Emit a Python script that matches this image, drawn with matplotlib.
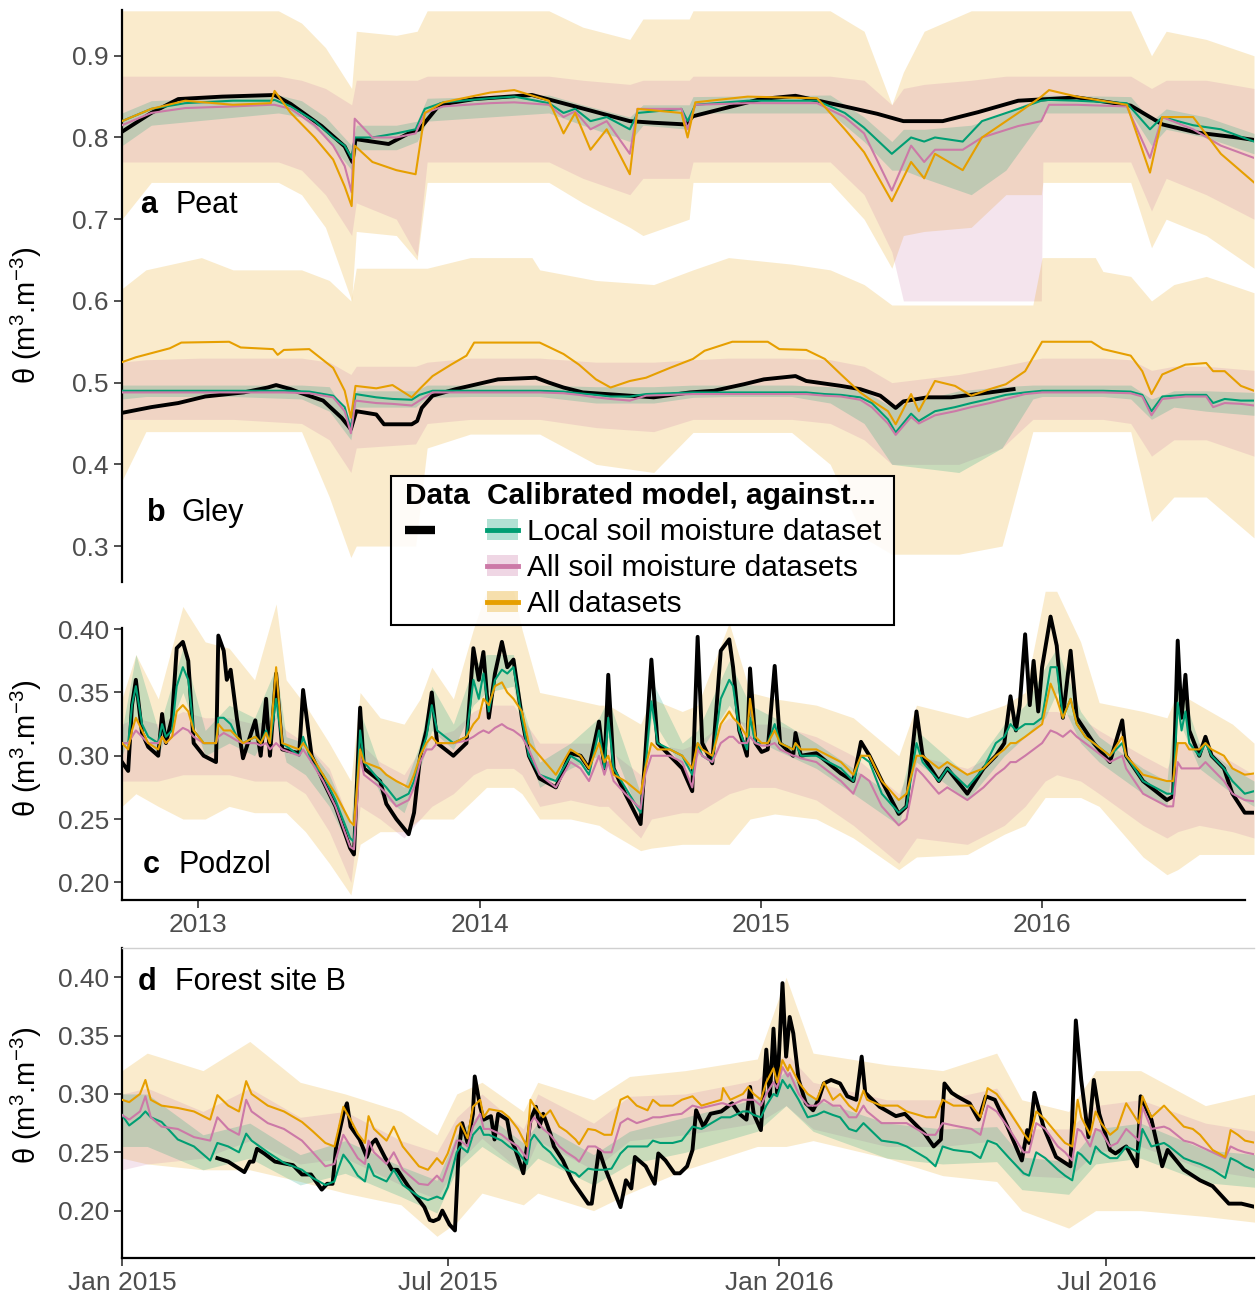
import matplotlib
matplotlib.use("Agg")
import matplotlib.pyplot as plt
import matplotlib.dates as mdates
from matplotlib.ticker import FormatStrFormatter
from matplotlib.lines import Line2D
from matplotlib.patches import Patch, Rectangle
import pandas as pd

plt.rcParams['font.family'] = ['Liberation Sans', 'DejaVu Sans']
plt.rcParams['mathtext.fontset'] = 'custom'
plt.rcParams['mathtext.rm'] = 'Liberation Sans'
plt.rcParams['mathtext.it'] = 'Liberation Sans:italic'

C_LOCAL = '#009E73'
C_ALLSM = '#CC79A7'
C_ALL = '#E69F00'

# ---------------- a  Peat ----------------
peat_obs_dates = ['2012-09-24', '2012-11-01', '2012-12-06', '2013-02-01', '2013-04-10', '2013-05-01', '2013-06-10', '2013-07-10', '2013-07-20', '2013-07-24',
                  '2013-09-05', '2013-10-01', '2013-10-15', '2013-11-10', '2013-12-25', '2014-03-10', '2014-05-01', '2014-07-15', '2014-08-15', '2014-09-25',
                  '2014-10-05', '2015-01-01', '2015-02-15', '2015-04-15', '2015-06-01', '2015-07-05', '2015-08-25', '2015-10-10', '2015-12-01', '2016-02-15',
                  '2016-04-25', '2016-06-05', '2016-07-20', '2016-09-10', '2016-10-02']
peat_obs = [0.807, 0.83, 0.847, 0.850, 0.852, 0.841, 0.814, 0.789, 0.77, 0.798,
            0.792, 0.805, 0.81, 0.84, 0.847, 0.852, 0.839, 0.82, 0.818, 0.816,
            0.826, 0.847, 0.851, 0.839, 0.829, 0.820, 0.820, 0.831, 0.845, 0.849,
            0.839, 0.816, 0.806, 0.80, 0.797]

peat_mod_dates = ['2012-09-24', '2012-11-01', '2012-12-15', '2013-02-15', '2013-04-05', '2013-04-10', '2013-05-01', '2013-06-01', '2013-06-25', '2013-07-10',
                  '2013-07-19', '2013-07-23', '2013-08-15', '2013-09-15', '2013-10-10', '2013-10-22', '2013-11-15', '2014-01-15', '2014-02-15', '2014-04-01',
                  '2014-04-20', '2014-05-05', '2014-05-25', '2014-06-15', '2014-07-15', '2014-07-25', '2014-09-20', '2014-09-28', '2014-10-08', '2014-12-15',
                  '2015-03-15', '2015-04-20', '2015-05-15', '2015-06-20', '2015-07-15', '2015-08-01', '2015-08-15', '2015-09-20', '2015-10-15', '2015-12-01',
                  '2015-12-31', '2016-01-10', '2016-02-15', '2016-04-20', '2016-05-20', '2016-06-05', '2016-07-15', '2016-08-20', '2016-10-02']
peat_local = [0.82, 0.835, 0.842, 0.845, 0.845, 0.846, 0.838, 0.82, 0.80, 0.79,
              0.775, 0.80, 0.80, 0.805, 0.81, 0.835, 0.843, 0.848, 0.85, 0.842,
              0.83, 0.835, 0.82, 0.825, 0.81, 0.83, 0.835, 0.82, 0.84, 0.845,
              0.845, 0.83, 0.812, 0.78, 0.80, 0.795, 0.80, 0.795, 0.82, 0.835,
              0.845, 0.846, 0.845, 0.842, 0.81, 0.825, 0.815, 0.81, 0.795]
peat_allsm = [0.815, 0.83, 0.836, 0.838, 0.84, 0.84, 0.835, 0.815, 0.79, 0.765,
              0.733, 0.823, 0.80, 0.80, 0.805, 0.83, 0.838, 0.842, 0.843, 0.84,
              0.825, 0.832, 0.81, 0.82, 0.78, 0.835, 0.835, 0.81, 0.84, 0.842,
              0.842, 0.825, 0.805, 0.735, 0.79, 0.77, 0.785, 0.785, 0.80, 0.814,
              0.82, 0.84, 0.84, 0.838, 0.775, 0.825, 0.81, 0.79, 0.775]
peat_all = [0.82, 0.835, 0.845, 0.84, 0.842, 0.857, 0.83, 0.80, 0.773, 0.74,
            0.716, 0.79, 0.77, 0.76, 0.755, 0.83, 0.843, 0.855, 0.858, 0.845,
            0.805, 0.83, 0.785, 0.81, 0.755, 0.835, 0.83, 0.80, 0.843, 0.85,
            0.848, 0.81, 0.782, 0.722, 0.77, 0.75, 0.78, 0.76, 0.80, 0.83,
            0.85, 0.858, 0.85, 0.84, 0.757, 0.825, 0.825, 0.78, 0.745]

peat_band_dates = ['2012-09-24', '2012-11-01', '2013-04-15', '2013-05-15', '2013-06-15', '2013-07-19', '2013-07-25', '2013-09-15', '2013-10-12', '2013-10-25',
                   '2014-04-01', '2014-05-15', '2014-07-15', '2014-08-01', '2014-09-30', '2014-10-05', '2015-04-01', '2015-05-15', '2015-06-20', '2015-07-05',
                   '2015-08-01', '2015-10-01', '2015-11-15', '2015-12-31', '2016-01-02', '2016-04-25', '2016-05-22', '2016-06-10', '2016-08-01', '2016-10-02']
peat_all_lo = [0.70, 0.745, 0.745, 0.73, 0.69, 0.60, 0.685, 0.68, 0.65, 0.745,
               0.745, 0.72, 0.69, 0.68, 0.70, 0.745, 0.745, 0.70, 0.64, 0.68,
               0.685, 0.69, 0.73, 0.73, 0.745, 0.745, 0.665, 0.70, 0.68, 0.64]
peat_all_hi = [0.955, 0.955, 0.955, 0.94, 0.91, 0.86, 0.93, 0.925, 0.93, 0.955,
               0.955, 0.935, 0.92, 0.945, 0.945, 0.955, 0.955, 0.93, 0.84, 0.88,
               0.93, 0.955, 0.955, 0.955, 0.955, 0.955, 0.90, 0.93, 0.92, 0.90]
peat_allsm_lo = [0.77, 0.77, 0.77, 0.76, 0.73, 0.68, 0.72, 0.70, 0.655, 0.77,
                 0.77, 0.75, 0.73, 0.75, 0.75, 0.77, 0.77, 0.73, 0.66, 0.60,
                 0.60, 0.60, 0.60, 0.60, 0.77, 0.77, 0.71, 0.75, 0.73, 0.70]
peat_allsm_hi = [0.875, 0.875, 0.875, 0.87, 0.86, 0.84, 0.87, 0.87, 0.87, 0.875,
                 0.875, 0.87, 0.865, 0.87, 0.87, 0.875, 0.875, 0.87, 0.84, 0.86,
                 0.865, 0.87, 0.875, 0.875, 0.875, 0.875, 0.86, 0.87, 0.87, 0.86]
peat_local_lo = [0.79, 0.815, 0.83, 0.825, 0.80, 0.76, 0.785, 0.785, 0.795, 0.82,
                 0.83, 0.815, 0.795, 0.815, 0.81, 0.83, 0.83, 0.795, 0.76, 0.76,
                 0.75, 0.73, 0.76, 0.82, 0.83, 0.83, 0.79, 0.81, 0.80, 0.78]
peat_local_hi = [0.83, 0.845, 0.852, 0.845, 0.825, 0.79, 0.815, 0.815, 0.82, 0.848,
                 0.852, 0.84, 0.825, 0.84, 0.84, 0.85, 0.852, 0.825, 0.795, 0.81,
                 0.81, 0.815, 0.83, 0.85, 0.852, 0.85, 0.82, 0.835, 0.825, 0.805]

# ---------------- b  Gley ----------------
gley_obs_dates = ['2012-09-24', '2012-11-01', '2012-12-06', '2013-01-10', '2013-03-01', '2013-04-01', '2013-04-12', '2013-05-01', '2013-05-12', '2013-06-12',
                  '2013-07-06', '2013-07-18', '2013-07-25', '2013-08-20', '2013-08-30', '2013-10-05', '2013-10-12', '2013-10-18', '2013-11-01', '2013-12-01',
                  '2014-01-25', '2014-03-15', '2014-04-01', '2014-04-20', '2014-05-15', '2014-07-15', '2014-08-15', '2014-10-01', '2014-11-01', '2014-12-10',
                  '2015-01-05', '2015-02-15', '2015-03-01', '2015-04-15', '2015-05-10', '2015-06-05', '2015-06-25', '2015-07-05', '2015-08-05', '2015-09-05',
                  '2015-10-25', '2015-11-25']
gley_obs = [0.463, 0.47, 0.475, 0.483, 0.488, 0.494, 0.497, 0.492, 0.488, 0.478,
            0.457, 0.443, 0.465, 0.461, 0.449, 0.449, 0.453, 0.469, 0.484, 0.492,
            0.504, 0.506, 0.50, 0.494, 0.488, 0.484, 0.482, 0.488, 0.49, 0.498,
            0.504, 0.508, 0.502, 0.496, 0.492, 0.484, 0.469, 0.477, 0.482, 0.482,
            0.488, 0.492]

gley_mod_dates = ['2012-09-24', '2012-10-12', '2012-11-25', '2012-12-10', '2013-02-10', '2013-02-25', '2013-04-08', '2013-04-14', '2013-04-22', '2013-05-25',
                  '2013-06-25', '2013-07-10', '2013-07-18', '2013-07-24', '2013-08-20', '2013-09-10', '2013-10-05', '2013-10-15', '2013-11-01', '2013-11-25',
                  '2013-12-15', '2013-12-25', '2014-03-20', '2014-04-20', '2014-05-10', '2014-06-01', '2014-06-20', '2014-07-15', '2014-08-05', '2014-09-05',
                  '2014-10-05', '2014-10-20', '2014-11-25', '2015-01-10', '2015-01-25', '2015-03-01', '2015-03-25', '2015-04-15', '2015-05-10', '2015-05-25',
                  '2015-06-15', '2015-06-25', '2015-07-15', '2015-07-25', '2015-08-15', '2015-09-10', '2015-10-01', '2015-10-25', '2015-11-15', '2015-12-10',
                  '2016-01-01', '2016-03-05', '2016-03-20', '2016-04-25', '2016-05-10', '2016-05-22', '2016-06-05', '2016-07-05', '2016-08-01', '2016-08-10',
                  '2016-08-25', '2016-09-15', '2016-10-02']
gley_local = [0.49, 0.49, 0.49, 0.49, 0.49, 0.49, 0.49, 0.49, 0.49, 0.489,
              0.484, 0.47, 0.443, 0.486, 0.482, 0.48, 0.479, 0.485, 0.49, 0.49,
              0.49, 0.49, 0.49, 0.489, 0.487, 0.485, 0.483, 0.483, 0.486, 0.487,
              0.488, 0.488, 0.488, 0.488, 0.488, 0.488, 0.486, 0.485, 0.482, 0.475,
              0.455, 0.439, 0.462, 0.453, 0.465, 0.47, 0.475, 0.48, 0.485, 0.488,
              0.49, 0.49, 0.49, 0.489, 0.485, 0.465, 0.483, 0.485, 0.485, 0.475,
              0.48, 0.478, 0.478]
gley_allsm = [0.488, 0.488, 0.488, 0.488, 0.488, 0.488, 0.488, 0.488, 0.488, 0.487,
              0.482, 0.465, 0.438, 0.478, 0.475, 0.474, 0.472, 0.478, 0.488, 0.488,
              0.488, 0.488, 0.488, 0.487, 0.485, 0.482, 0.48, 0.478, 0.484, 0.485,
              0.486, 0.486, 0.486, 0.486, 0.486, 0.486, 0.484, 0.483, 0.479, 0.47,
              0.45, 0.436, 0.458, 0.45, 0.46, 0.465, 0.47, 0.475, 0.48, 0.486,
              0.488, 0.488, 0.488, 0.487, 0.483, 0.46, 0.48, 0.483, 0.483, 0.47,
              0.475, 0.474, 0.472]
gley_all = [0.525, 0.531, 0.542, 0.549, 0.55, 0.543, 0.541, 0.534, 0.54, 0.541,
            0.518, 0.49, 0.457, 0.496, 0.493, 0.497, 0.482, 0.492, 0.508, 0.522,
            0.533, 0.549, 0.549, 0.535, 0.522, 0.504, 0.494, 0.502, 0.506, 0.518,
            0.529, 0.539, 0.55, 0.55, 0.541, 0.54, 0.529, 0.51, 0.488, 0.478,
            0.465, 0.449, 0.486, 0.465, 0.502, 0.496, 0.484, 0.492, 0.498, 0.514,
            0.55, 0.55, 0.541, 0.533, 0.514, 0.486, 0.51, 0.522, 0.524, 0.514,
            0.514, 0.496, 0.49]

gley_band_dates = ['2012-09-24', '2012-10-25', '2013-01-05', '2013-02-15', '2013-05-15', '2013-06-20', '2013-07-18', '2013-07-25', '2013-10-10', '2013-10-25',
                   '2013-12-20', '2014-03-10', '2014-03-20', '2014-06-01', '2014-08-15', '2014-10-05', '2014-11-20', '2015-02-10', '2015-04-01', '2015-05-15',
                   '2015-06-20', '2015-09-15', '2015-11-10', '2015-12-20', '2016-01-01', '2016-03-10', '2016-03-20', '2016-04-25', '2016-05-22', '2016-06-20',
                   '2016-08-01', '2016-10-02']
gley_all_lo = [0.38, 0.44, 0.44, 0.44, 0.44, 0.36, 0.286, 0.30, 0.30, 0.42,
               0.437, 0.437, 0.437, 0.40, 0.39, 0.439, 0.439, 0.439, 0.40, 0.31,
               0.29, 0.29, 0.30, 0.44, 0.44, 0.44, 0.44, 0.44, 0.33, 0.36,
               0.36, 0.31]
gley_all_hi = [0.615, 0.638, 0.653, 0.638, 0.638, 0.625, 0.60, 0.64, 0.64, 0.64,
               0.653, 0.653, 0.638, 0.625, 0.62, 0.638, 0.653, 0.645, 0.638, 0.62,
               0.595, 0.595, 0.595, 0.595, 0.653, 0.653, 0.636, 0.63, 0.60, 0.62,
               0.63, 0.61]
gley_allsm_lo = [0.455, 0.455, 0.455, 0.455, 0.45, 0.43, 0.39, 0.42, 0.425, 0.45,
                 0.455, 0.455, 0.455, 0.445, 0.44, 0.455, 0.455, 0.455, 0.45, 0.43,
                 0.40, 0.40, 0.42, 0.455, 0.455, 0.455, 0.455, 0.45, 0.41, 0.43,
                 0.43, 0.41]
gley_allsm_hi = [0.525, 0.528, 0.53, 0.53, 0.53, 0.525, 0.51, 0.52, 0.52, 0.525,
                 0.53, 0.53, 0.53, 0.525, 0.525, 0.528, 0.53, 0.53, 0.528, 0.52,
                 0.50, 0.51, 0.52, 0.528, 0.53, 0.53, 0.53, 0.528, 0.515, 0.52,
                 0.52, 0.515]
gley_local_lo = [0.48, 0.483, 0.483, 0.483, 0.48, 0.465, 0.43, 0.47, 0.47, 0.482,
                 0.483, 0.483, 0.483, 0.475, 0.475, 0.482, 0.483, 0.483, 0.475, 0.45,
                 0.40, 0.39, 0.42, 0.48, 0.483, 0.483, 0.483, 0.48, 0.455, 0.47,
                 0.465, 0.46]
gley_local_hi = [0.497, 0.497, 0.497, 0.497, 0.497, 0.495, 0.455, 0.49, 0.49, 0.497,
                 0.497, 0.497, 0.497, 0.495, 0.495, 0.497, 0.497, 0.497, 0.495, 0.49,
                 0.47, 0.49, 0.495, 0.497, 0.497, 0.497, 0.497, 0.497, 0.48, 0.49,
                 0.49, 0.488]

# ---------------- c  Podzol ----------------
podzol_obs_dates = ['2012-09-24', '2012-10-02', '2012-10-07', '2012-10-12', '2012-10-20', '2012-10-28', '2012-11-10', '2012-11-15', '2012-11-20', '2012-11-28',
                    '2012-12-04', '2012-12-12', '2012-12-19', '2012-12-26', '2013-01-08', '2013-01-24', '2013-01-27', '2013-02-03', '2013-02-07', '2013-02-12',
                    '2013-02-20', '2013-02-28', '2013-03-16', '2013-03-23', '2013-03-30', '2013-04-04', '2013-04-12', '2013-04-20', '2013-05-12', '2013-05-17',
                    '2013-05-28', '2013-06-12', '2013-06-28', '2013-07-17', '2013-07-22', '2013-07-30', '2013-08-04', '2013-08-25', '2013-09-02', '2013-09-15',
                    '2013-10-01', '2013-10-08', '2013-10-16', '2013-10-24', '2013-10-31', '2013-11-07', '2013-11-28', '2013-12-15', '2013-12-24', '2013-12-31',
                    '2014-01-06', '2014-01-13', '2014-01-21', '2014-01-30', '2014-02-06', '2014-02-14', '2014-02-25', '2014-03-06', '2014-03-20', '2014-04-10',
                    '2014-04-29', '2014-05-12', '2014-05-23', '2014-06-05', '2014-06-12', '2014-06-17', '2014-06-24', '2014-07-09', '2014-07-29', '2014-08-04',
                    '2014-08-12', '2014-08-20', '2014-09-05', '2014-09-21', '2014-10-04', '2014-10-11', '2014-10-17', '2014-10-30', '2014-11-10', '2014-11-21',
                    '2014-11-26', '2014-12-04', '2014-12-14', '2014-12-18', '2014-12-25', '2015-01-02', '2015-01-10', '2015-01-19', '2015-01-26', '2015-02-12',
                    '2015-02-15', '2015-02-22', '2015-03-14', '2015-04-15', '2015-05-01', '2015-05-11', '2015-05-22', '2015-06-07', '2015-06-29', '2015-07-09',
                    '2015-07-22', '2015-07-30', '2015-08-20', '2015-08-31', '2015-09-26', '2015-10-17', '2015-11-02', '2015-11-13', '2015-11-21', '2015-11-28',
                    '2015-12-03', '2015-12-10', '2015-12-16', '2015-12-21', '2015-12-27', '2016-01-01', '2016-01-12', '2016-01-20', '2016-01-28', '2016-02-07',
                    '2016-02-15', '2016-02-26', '2016-03-08', '2016-03-29', '2016-04-14', '2016-04-19', '2016-05-11', '2016-06-11', '2016-06-19', '2016-06-25',
                    '2016-06-30', '2016-07-05', '2016-07-10', '2016-07-23', '2016-07-31', '2016-08-08', '2016-08-24', '2016-09-04', '2016-09-20', '2016-10-02']
podzol_obs = [0.295, 0.288, 0.34, 0.36, 0.318, 0.307, 0.30, 0.333, 0.31, 0.33,
              0.385, 0.39, 0.375, 0.31, 0.30, 0.295, 0.395, 0.383, 0.36, 0.368,
              0.33, 0.298, 0.328, 0.30, 0.345, 0.30, 0.365, 0.305, 0.302, 0.352,
              0.30, 0.28, 0.26, 0.227, 0.222, 0.338, 0.29, 0.28, 0.262, 0.25,
              0.238, 0.255, 0.30, 0.32, 0.35, 0.31, 0.30, 0.31, 0.385, 0.36,
              0.382, 0.33, 0.365, 0.39, 0.37, 0.376, 0.33, 0.30, 0.282, 0.275,
              0.302, 0.30, 0.29, 0.327, 0.29, 0.364, 0.29, 0.27, 0.246, 0.30,
              0.376, 0.31, 0.30, 0.29, 0.272, 0.394, 0.31, 0.294, 0.383, 0.392,
              0.37, 0.32, 0.30, 0.369, 0.31, 0.303, 0.305, 0.371, 0.31, 0.30,
              0.318, 0.30, 0.302, 0.286, 0.28, 0.311, 0.30, 0.28, 0.254, 0.26,
              0.335, 0.30, 0.28, 0.29, 0.27, 0.29, 0.30, 0.31, 0.347, 0.32,
              0.34, 0.396, 0.34, 0.375, 0.335, 0.37, 0.41, 0.387, 0.33, 0.383,
              0.33, 0.32, 0.31, 0.295, 0.328, 0.30, 0.28, 0.265, 0.268, 0.391,
              0.33, 0.364, 0.32, 0.30, 0.315, 0.30, 0.29, 0.27, 0.255, 0.255]

podzol_mod_dates = ['2012-09-24', '2012-10-02', '2012-10-07', '2012-10-12', '2012-10-20', '2012-10-28', '2012-11-10', '2012-11-15', '2012-11-20', '2012-11-28',
                    '2012-12-04', '2012-12-12', '2012-12-19', '2012-12-26', '2013-01-08', '2013-01-24', '2013-01-27', '2013-02-03', '2013-02-12', '2013-02-20',
                    '2013-02-28', '2013-03-16', '2013-03-23', '2013-03-30', '2013-04-04', '2013-04-12', '2013-04-20', '2013-05-12', '2013-05-17', '2013-05-28',
                    '2013-06-12', '2013-06-28', '2013-07-17', '2013-07-22', '2013-07-30', '2013-08-04', '2013-08-25', '2013-09-02', '2013-09-15', '2013-10-01',
                    '2013-10-08', '2013-10-16', '2013-10-24', '2013-10-31', '2013-11-07', '2013-11-28', '2013-12-15', '2013-12-24', '2013-12-31', '2014-01-06',
                    '2014-01-13', '2014-01-21', '2014-01-30', '2014-02-06', '2014-02-14', '2014-02-25', '2014-03-06', '2014-03-20', '2014-04-10', '2014-04-29',
                    '2014-05-12', '2014-05-23', '2014-06-05', '2014-06-12', '2014-06-17', '2014-06-24', '2014-07-09', '2014-07-29', '2014-08-04', '2014-08-12',
                    '2014-08-20', '2014-09-05', '2014-09-21', '2014-10-04', '2014-10-11', '2014-10-17', '2014-10-30', '2014-11-10', '2014-11-21', '2014-11-26',
                    '2014-12-04', '2014-12-14', '2014-12-18', '2014-12-25', '2015-01-02', '2015-01-10', '2015-01-19', '2015-01-26', '2015-02-12', '2015-02-15',
                    '2015-02-22', '2015-03-14', '2015-04-15', '2015-05-01', '2015-05-11', '2015-05-22', '2015-06-07', '2015-06-29', '2015-07-09', '2015-07-22',
                    '2015-07-30', '2015-08-20', '2015-08-31', '2015-09-26', '2015-10-17', '2015-11-02', '2015-11-13', '2015-11-21', '2015-11-28', '2015-12-10',
                    '2015-12-21', '2016-01-01', '2016-01-12', '2016-01-20', '2016-01-28', '2016-02-07', '2016-02-15', '2016-02-26', '2016-03-08', '2016-03-29',
                    '2016-04-14', '2016-04-19', '2016-05-11', '2016-06-11', '2016-06-19', '2016-06-25', '2016-06-30', '2016-07-05', '2016-07-10', '2016-07-23',
                    '2016-07-31', '2016-08-08', '2016-08-24', '2016-09-04', '2016-09-20', '2016-10-02']
podzol_local = [0.31, 0.31, 0.34, 0.355, 0.325, 0.315, 0.31, 0.325, 0.315, 0.32,
                0.355, 0.37, 0.36, 0.32, 0.31, 0.31, 0.33, 0.33, 0.325, 0.315,
                0.31, 0.315, 0.31, 0.32, 0.31, 0.345, 0.31, 0.30, 0.315, 0.295,
                0.285, 0.265, 0.235, 0.232, 0.32, 0.295, 0.28, 0.275, 0.265, 0.27,
                0.28, 0.30, 0.315, 0.34, 0.32, 0.31, 0.315, 0.36, 0.345, 0.365,
                0.335, 0.36, 0.368, 0.365, 0.37, 0.33, 0.30, 0.285, 0.28, 0.30,
                0.295, 0.285, 0.32, 0.29, 0.33, 0.29, 0.275, 0.255, 0.29, 0.343,
                0.31, 0.305, 0.30, 0.285, 0.31, 0.30, 0.295, 0.345, 0.36, 0.355,
                0.32, 0.305, 0.33, 0.31, 0.31, 0.31, 0.325, 0.31, 0.305, 0.31,
                0.30, 0.30, 0.29, 0.28, 0.30, 0.295, 0.27, 0.255, 0.26, 0.31,
                0.295, 0.28, 0.29, 0.275, 0.29, 0.31, 0.315, 0.325, 0.32, 0.325,
                0.325, 0.33, 0.37, 0.37, 0.33, 0.345, 0.325, 0.315, 0.31, 0.30,
                0.31, 0.30, 0.28, 0.27, 0.27, 0.342, 0.32, 0.335, 0.31, 0.30,
                0.31, 0.30, 0.29, 0.28, 0.27, 0.272]
podzol_allsm = [0.31, 0.31, 0.315, 0.32, 0.315, 0.31, 0.31, 0.315, 0.31, 0.315,
                0.318, 0.322, 0.32, 0.315, 0.31, 0.31, 0.315, 0.318, 0.315, 0.312,
                0.31, 0.31, 0.308, 0.31, 0.305, 0.31, 0.305, 0.30, 0.305, 0.295,
                0.28, 0.26, 0.228, 0.226, 0.30, 0.285, 0.275, 0.27, 0.26, 0.265,
                0.275, 0.295, 0.305, 0.305, 0.31, 0.31, 0.312, 0.315, 0.318, 0.32,
                0.318, 0.322, 0.325, 0.322, 0.32, 0.315, 0.305, 0.285, 0.275, 0.295,
                0.29, 0.28, 0.30, 0.285, 0.295, 0.28, 0.27, 0.258, 0.285, 0.30,
                0.30, 0.30, 0.295, 0.275, 0.305, 0.30, 0.295, 0.31, 0.315, 0.315,
                0.31, 0.31, 0.315, 0.31, 0.308, 0.308, 0.31, 0.305, 0.30, 0.30,
                0.298, 0.295, 0.28, 0.27, 0.285, 0.28, 0.26, 0.245, 0.25, 0.29,
                0.285, 0.27, 0.275, 0.265, 0.275, 0.285, 0.29, 0.295, 0.295, 0.30,
                0.305, 0.31, 0.32, 0.318, 0.315, 0.32, 0.315, 0.31, 0.305, 0.295,
                0.30, 0.29, 0.27, 0.26, 0.26, 0.295, 0.29, 0.29, 0.29, 0.29,
                0.295, 0.29, 0.28, 0.27, 0.265, 0.264]
podzol_all = [0.31, 0.305, 0.32, 0.33, 0.32, 0.31, 0.305, 0.315, 0.31, 0.315,
              0.335, 0.34, 0.335, 0.32, 0.31, 0.31, 0.325, 0.32, 0.32, 0.315,
              0.31, 0.315, 0.31, 0.318, 0.31, 0.37, 0.31, 0.305, 0.31, 0.30,
              0.285, 0.27, 0.248, 0.245, 0.305, 0.295, 0.29, 0.285, 0.28, 0.275,
              0.285, 0.30, 0.31, 0.315, 0.31, 0.31, 0.315, 0.325, 0.33, 0.345,
              0.34, 0.355, 0.358, 0.35, 0.345, 0.335, 0.31, 0.30, 0.285, 0.305,
              0.30, 0.29, 0.31, 0.295, 0.30, 0.285, 0.28, 0.27, 0.29, 0.31,
              0.305, 0.305, 0.30, 0.29, 0.31, 0.305, 0.30, 0.325, 0.335, 0.33,
              0.325, 0.315, 0.345, 0.315, 0.31, 0.31, 0.32, 0.31, 0.305, 0.31,
              0.305, 0.305, 0.295, 0.285, 0.30, 0.30, 0.28, 0.265, 0.27, 0.30,
              0.30, 0.29, 0.295, 0.285, 0.29, 0.30, 0.305, 0.31, 0.31, 0.315,
              0.32, 0.325, 0.357, 0.345, 0.33, 0.345, 0.325, 0.315, 0.31, 0.30,
              0.315, 0.30, 0.285, 0.28, 0.28, 0.31, 0.31, 0.31, 0.305, 0.305,
              0.31, 0.305, 0.30, 0.29, 0.285, 0.286]

podzol_band_dates = ['2012-09-24', '2012-10-12', '2012-11-10', '2012-12-12', '2013-01-10', '2013-02-10', '2013-03-15', '2013-04-12', '2013-04-25', '2013-05-20',
                     '2013-06-20', '2013-07-18', '2013-07-30', '2013-08-25', '2013-09-25', '2013-10-16', '2013-10-31', '2013-11-28', '2013-12-24', '2014-01-10',
                     '2014-02-14', '2014-02-25', '2014-03-20', '2014-04-29', '2014-06-05', '2014-06-17', '2014-07-29', '2014-08-12', '2014-09-21', '2014-10-11',
                     '2014-11-21', '2014-12-18', '2015-01-19', '2015-03-14', '2015-05-01', '2015-06-29', '2015-07-22', '2015-09-26', '2015-11-13', '2015-12-10',
                     '2016-01-05', '2016-01-20', '2016-02-20', '2016-03-15', '2016-05-11', '2016-06-11', '2016-06-25', '2016-07-23', '2016-09-04', '2016-10-02']
podzol_all_lo = [0.26, 0.27, 0.26, 0.25, 0.25, 0.26, 0.255, 0.255, 0.255, 0.24,
                 0.215, 0.19, 0.23, 0.24, 0.24, 0.25, 0.25, 0.25, 0.265, 0.275,
                 0.275, 0.27, 0.25, 0.25, 0.245, 0.24, 0.225, 0.227, 0.23, 0.23,
                 0.23, 0.25, 0.254, 0.25, 0.235, 0.21, 0.22, 0.222, 0.238, 0.245,
                 0.267, 0.267, 0.267, 0.26, 0.22, 0.206, 0.21, 0.222, 0.222, 0.222]
podzol_all_hi = [0.345, 0.38, 0.345, 0.418, 0.39, 0.385, 0.36, 0.42, 0.36, 0.34,
                 0.31, 0.28, 0.35, 0.33, 0.325, 0.345, 0.37, 0.345, 0.40, 0.43,
                 0.43, 0.40, 0.35, 0.345, 0.34, 0.34, 0.325, 0.345, 0.335, 0.34,
                 0.405, 0.35, 0.345, 0.34, 0.33, 0.30, 0.34, 0.33, 0.34, 0.35,
                 0.43, 0.43, 0.39, 0.342, 0.335, 0.33, 0.35, 0.34, 0.325, 0.31]
podzol_allsm_lo = [0.28, 0.28, 0.28, 0.285, 0.285, 0.285, 0.28, 0.28, 0.28, 0.27,
                   0.24, 0.20, 0.26, 0.25, 0.235, 0.25, 0.26, 0.27, 0.285, 0.29,
                   0.29, 0.285, 0.26, 0.265, 0.26, 0.26, 0.235, 0.25, 0.255, 0.255,
                   0.27, 0.275, 0.275, 0.265, 0.245, 0.215, 0.235, 0.23, 0.245, 0.26,
                   0.28, 0.285, 0.28, 0.27, 0.245, 0.235, 0.24, 0.245, 0.24, 0.235]
podzol_allsm_hi = [0.325, 0.33, 0.325, 0.335, 0.33, 0.33, 0.325, 0.33, 0.32, 0.31,
                   0.29, 0.245, 0.31, 0.295, 0.285, 0.305, 0.315, 0.32, 0.335, 0.34,
                   0.34, 0.33, 0.31, 0.31, 0.31, 0.305, 0.285, 0.31, 0.305, 0.31,
                   0.33, 0.325, 0.325, 0.315, 0.30, 0.27, 0.30, 0.29, 0.305, 0.315,
                   0.335, 0.335, 0.33, 0.32, 0.30, 0.29, 0.31, 0.31, 0.295, 0.285]
podzol_local_lo = [0.30, 0.33, 0.30, 0.35, 0.30, 0.31, 0.30, 0.33, 0.295, 0.285,
                   0.26, 0.225, 0.305, 0.27, 0.255, 0.29, 0.32, 0.305, 0.34, 0.35,
                   0.355, 0.32, 0.275, 0.29, 0.30, 0.315, 0.25, 0.33, 0.29, 0.30,
                   0.34, 0.315, 0.305, 0.29, 0.27, 0.245, 0.295, 0.265, 0.30, 0.315,
                   0.33, 0.35, 0.31, 0.295, 0.27, 0.26, 0.33, 0.29, 0.27, 0.26]
podzol_local_hi = [0.32, 0.38, 0.32, 0.385, 0.32, 0.34, 0.33, 0.37, 0.315, 0.31,
                   0.285, 0.245, 0.335, 0.29, 0.275, 0.31, 0.355, 0.325, 0.37, 0.38,
                   0.38, 0.34, 0.295, 0.31, 0.33, 0.345, 0.27, 0.36, 0.31, 0.32,
                   0.375, 0.34, 0.33, 0.31, 0.29, 0.265, 0.32, 0.285, 0.325, 0.34,
                   0.37, 0.385, 0.335, 0.315, 0.29, 0.28, 0.36, 0.31, 0.29, 0.28]

# ---------------- d  Forest site B ----------------
forest_obs_dates = ['2015-02-23', '2015-03-01', '2015-03-10', '2015-03-13', '2015-03-15', '2015-03-17', '2015-03-21', '2015-03-27', '2015-04-06', '2015-04-11',
                    '2015-04-16', '2015-04-22', '2015-04-25', '2015-04-28', '2015-04-30', '2015-05-04', '2015-05-06', '2015-05-08', '2015-05-13', '2015-05-17',
                    '2015-05-20', '2015-05-22', '2015-05-27', '2015-05-31', '2015-06-03', '2015-06-09', '2015-06-18', '2015-06-21', '2015-06-23', '2015-06-26',
                    '2015-06-28', '2015-07-02', '2015-07-05', '2015-07-07', '2015-07-09', '2015-07-12', '2015-07-15', '2015-07-16', '2015-07-19', '2015-07-21',
                    '2015-07-25', '2015-07-27', '2015-07-29', '2015-08-03', '2015-08-05', '2015-08-07', '2015-08-12', '2015-08-16', '2015-08-19', '2015-08-21',
                    '2015-08-23', '2015-08-27', '2015-08-29', '2015-09-03', '2015-09-08', '2015-09-17', '2015-09-19', '2015-09-23', '2015-09-26', '2015-10-05',
                    '2015-10-08', '2015-10-11', '2015-10-13', '2015-10-19', '2015-10-24', '2015-10-26', '2015-10-30', '2015-11-04', '2015-11-07', '2015-11-11',
                    '2015-11-14', '2015-11-16', '2015-11-20', '2015-11-24', '2015-11-30', '2015-12-06', '2015-12-10', '2015-12-14', '2015-12-16', '2015-12-18',
                    '2015-12-22', '2015-12-25', '2015-12-27', '2015-12-29', '2015-12-31', '2016-01-03', '2016-01-05', '2016-01-07', '2016-01-09', '2016-01-12',
                    '2016-01-16', '2016-01-20', '2016-01-23', '2016-01-26', '2016-01-30', '2016-02-04', '2016-02-08', '2016-02-13', '2016-02-16', '2016-02-18',
                    '2016-02-26', '2016-03-06', '2016-03-11', '2016-03-22', '2016-03-27', '2016-03-31', '2016-04-02', '2016-04-06', '2016-04-09', '2016-04-16',
                    '2016-04-21', '2016-04-25', '2016-04-30', '2016-05-07', '2016-05-15', '2016-05-18', '2016-05-19', '2016-05-22', '2016-05-27', '2016-06-03',
                    '2016-06-08', '2016-06-11', '2016-06-14', '2016-06-17', '2016-06-21', '2016-06-24', '2016-06-27', '2016-07-03', '2016-07-06', '2016-07-12',
                    '2016-07-18', '2016-07-20', '2016-07-26', '2016-08-01', '2016-08-04', '2016-08-13', '2016-08-22', '2016-08-29', '2016-09-07', '2016-09-14',
                    '2016-09-22']
forest_obs = [0.245, 0.242, 0.233, 0.242, 0.242, 0.253, 0.249, 0.242, 0.239, 0.231,
              0.231, 0.218, 0.223, 0.223, 0.255, 0.283, 0.292, 0.272, 0.261, 0.246,
              0.258, 0.261, 0.246, 0.235, 0.235, 0.221, 0.203, 0.192, 0.191, 0.193,
              0.20, 0.188, 0.183, 0.249, 0.275, 0.258, 0.283, 0.315, 0.289, 0.278,
              0.281, 0.261, 0.283, 0.278, 0.261, 0.255, 0.232, 0.278, 0.289, 0.272,
              0.283, 0.266, 0.255, 0.243, 0.226, 0.206, 0.206, 0.252, 0.238, 0.203,
              0.226, 0.219, 0.246, 0.238, 0.223, 0.249, 0.243, 0.232, 0.232, 0.238,
              0.252, 0.286, 0.272, 0.283, 0.285, 0.292, 0.283, 0.278, 0.306, 0.283,
              0.269, 0.338, 0.298, 0.356, 0.301, 0.395, 0.332, 0.366, 0.352, 0.312,
              0.292, 0.286, 0.295, 0.309, 0.312, 0.309, 0.298, 0.295, 0.332, 0.301,
              0.289, 0.281, 0.283, 0.266, 0.255, 0.261, 0.309, 0.301, 0.298, 0.292,
              0.278, 0.298, 0.295, 0.272, 0.243, 0.269, 0.258, 0.301, 0.272, 0.246,
              0.241, 0.238, 0.363, 0.312, 0.263, 0.312, 0.283, 0.252, 0.249, 0.255,
              0.238, 0.298, 0.278, 0.238, 0.252, 0.235, 0.226, 0.221, 0.206, 0.206,
              0.203]

forest_mod_dates = ['2015-01-01', '2015-01-05', '2015-01-11', '2015-01-14', '2015-01-17', '2015-01-23', '2015-02-01', '2015-02-10', '2015-02-19', '2015-02-23',
                    '2015-03-01', '2015-03-07', '2015-03-11', '2015-03-14', '2015-03-23', '2015-04-01', '2015-04-11', '2015-04-17', '2015-04-24', '2015-04-29',
                    '2015-05-01', '2015-05-04', '2015-05-08', '2015-05-12', '2015-05-16', '2015-05-18', '2015-05-21', '2015-05-28', '2015-06-01', '2015-06-06',
                    '2015-06-15', '2015-06-20', '2015-06-25', '2015-06-28', '2015-07-01', '2015-07-06', '2015-07-08', '2015-07-12', '2015-07-15', '2015-07-19',
                    '2015-07-21', '2015-07-24', '2015-07-31', '2015-08-04', '2015-08-09', '2015-08-14', '2015-08-16', '2015-08-18', '2015-08-23', '2015-08-27',
                    '2015-09-01', '2015-09-05', '2015-09-10', '2015-09-12', '2015-09-17', '2015-09-21', '2015-09-26', '2015-09-30', '2015-10-05', '2015-10-09',
                    '2015-10-14', '2015-10-20', '2015-10-23', '2015-10-27', '2015-11-03', '2015-11-08', '2015-11-14', '2015-11-19', '2015-11-30', '2015-12-01',
                    '2015-12-05', '2015-12-12', '2015-12-15', '2015-12-18', '2015-12-22', '2015-12-25', '2015-12-29', '2015-12-31', '2016-01-03', '2016-01-06',
                    '2016-01-07', '2016-01-12', '2016-01-17', '2016-01-22', '2016-01-26', '2016-01-31', '2016-02-04', '2016-02-09', '2016-02-13', '2016-02-17',
                    '2016-02-19', '2016-02-27', '2016-03-07', '2016-03-12', '2016-03-23', '2016-03-28', '2016-04-01', '2016-04-07', '2016-04-17', '2016-04-22',
                    '2016-04-26', '2016-05-01', '2016-05-08', '2016-05-16', '2016-05-19', '2016-05-23', '2016-05-28', '2016-06-04', '2016-06-08', '2016-06-12',
                    '2016-06-15', '2016-06-17', '2016-06-22', '2016-06-25', '2016-06-28', '2016-07-03', '2016-07-07', '2016-07-12', '2016-07-19', '2016-07-21',
                    '2016-07-26', '2016-08-02', '2016-08-05', '2016-08-13', '2016-08-18', '2016-08-22', '2016-08-29', '2016-09-05', '2016-09-08', '2016-09-12',
                    '2016-09-16', '2016-09-22']
forest_local = [0.282, 0.273, 0.28, 0.285, 0.28, 0.276, 0.261, 0.255, 0.243, 0.258,
                0.255, 0.25, 0.266, 0.26, 0.25, 0.241, 0.235, 0.228, 0.222, 0.225,
                0.235, 0.248, 0.24, 0.23, 0.225, 0.24, 0.23, 0.225, 0.235, 0.222,
                0.212, 0.209, 0.212, 0.21, 0.22, 0.25, 0.255, 0.25, 0.265, 0.272,
                0.265, 0.265, 0.26, 0.255, 0.25, 0.24, 0.26, 0.265, 0.255, 0.25,
                0.24, 0.235, 0.232, 0.229, 0.236, 0.235, 0.235, 0.236, 0.249, 0.255,
                0.255, 0.255, 0.26, 0.258, 0.258, 0.26, 0.272, 0.27, 0.28, 0.28,
                0.28, 0.285, 0.285, 0.282, 0.28, 0.29, 0.30, 0.298, 0.312, 0.305,
                0.308, 0.295, 0.28, 0.282, 0.285, 0.282, 0.28, 0.27, 0.268, 0.275,
                0.272, 0.26, 0.258, 0.255, 0.245, 0.238, 0.255, 0.252, 0.25, 0.245,
                0.26, 0.257, 0.245, 0.232, 0.23, 0.25, 0.245, 0.235, 0.23, 0.226,
                0.25, 0.248, 0.24, 0.255, 0.25, 0.245, 0.245, 0.255, 0.25, 0.27,
                0.255, 0.258, 0.255, 0.245, 0.242, 0.24, 0.235, 0.228, 0.245, 0.242,
                0.238, 0.234]
forest_allsm = [0.282, 0.278, 0.285, 0.298, 0.28, 0.272, 0.27, 0.263, 0.26, 0.28,
                0.27, 0.265, 0.295, 0.285, 0.275, 0.27, 0.26, 0.25, 0.238, 0.24,
                0.25, 0.265, 0.255, 0.245, 0.24, 0.26, 0.25, 0.24, 0.25, 0.235,
                0.223, 0.222, 0.23, 0.225, 0.238, 0.26, 0.26, 0.255, 0.272, 0.283,
                0.27, 0.27, 0.265, 0.26, 0.255, 0.245, 0.275, 0.28, 0.27, 0.265,
                0.255, 0.25, 0.245, 0.242, 0.255, 0.255, 0.25, 0.25, 0.275, 0.279,
                0.275, 0.278, 0.28, 0.28, 0.282, 0.283, 0.29, 0.288, 0.292, 0.292,
                0.29, 0.295, 0.295, 0.295, 0.29, 0.30, 0.31, 0.305, 0.323, 0.315,
                0.318, 0.30, 0.29, 0.29, 0.295, 0.29, 0.29, 0.28, 0.28, 0.29,
                0.285, 0.275, 0.275, 0.275, 0.265, 0.265, 0.275, 0.273, 0.27, 0.265,
                0.29, 0.285, 0.27, 0.25, 0.25, 0.275, 0.27, 0.255, 0.25, 0.243,
                0.27, 0.268, 0.255, 0.27, 0.268, 0.255, 0.258, 0.27, 0.26, 0.289,
                0.27, 0.272, 0.27, 0.26, 0.258, 0.255, 0.25, 0.245, 0.255, 0.252,
                0.25, 0.248]
forest_all = [0.295, 0.293, 0.30, 0.312, 0.295, 0.29, 0.288, 0.285, 0.278, 0.299,
              0.29, 0.285, 0.311, 0.30, 0.29, 0.285, 0.276, 0.268, 0.258, 0.255,
              0.268, 0.289, 0.278, 0.266, 0.258, 0.281, 0.27, 0.26, 0.272, 0.255,
              0.238, 0.235, 0.245, 0.24, 0.249, 0.272, 0.275, 0.262, 0.289, 0.295,
              0.28, 0.287, 0.285, 0.28, 0.27, 0.255, 0.295, 0.29, 0.28, 0.286,
              0.272, 0.268, 0.261, 0.257, 0.27, 0.269, 0.265, 0.265, 0.295, 0.298,
              0.29, 0.286, 0.295, 0.29, 0.29, 0.295, 0.298, 0.29, 0.295, 0.305,
              0.295, 0.30, 0.306, 0.30, 0.295, 0.31, 0.322, 0.31, 0.329, 0.32,
              0.325, 0.31, 0.30, 0.295, 0.31, 0.295, 0.30, 0.29, 0.285, 0.303,
              0.295, 0.29, 0.29, 0.285, 0.28, 0.28, 0.295, 0.29, 0.29, 0.28,
              0.305, 0.30, 0.285, 0.266, 0.26, 0.285, 0.278, 0.265, 0.258, 0.255,
              0.295, 0.28, 0.265, 0.285, 0.275, 0.265, 0.27, 0.292, 0.275, 0.298,
              0.28, 0.29, 0.285, 0.272, 0.27, 0.265, 0.252, 0.246, 0.269, 0.265,
              0.26, 0.258]

forest_band_dates = ['2015-01-01', '2015-01-15', '2015-02-15', '2015-03-13', '2015-04-10', '2015-05-05', '2015-06-05', '2015-06-25', '2015-07-06', '2015-07-20',
                     '2015-08-12', '2015-08-20', '2015-09-20', '2015-10-10', '2015-11-10', '2015-12-20', '2016-01-05', '2016-01-20', '2016-03-01', '2016-04-01',
                     '2016-05-01', '2016-05-15', '2016-06-10', '2016-06-25', '2016-07-20', '2016-08-25', '2016-09-22']
forest_all_lo = [0.245, 0.24, 0.235, 0.235, 0.225, 0.215, 0.205, 0.178, 0.19, 0.215,
                 0.205, 0.215, 0.20, 0.215, 0.235, 0.255, 0.255, 0.26, 0.245, 0.23,
                 0.225, 0.20, 0.185, 0.20, 0.20, 0.195, 0.19]
forest_all_hi = [0.32, 0.335, 0.32, 0.345, 0.31, 0.30, 0.285, 0.265, 0.30, 0.31,
                 0.285, 0.31, 0.295, 0.315, 0.32, 0.33, 0.40, 0.335, 0.325, 0.32,
                 0.335, 0.295, 0.285, 0.32, 0.32, 0.29, 0.30]
forest_allsm_lo = [0.235, 0.24, 0.245, 0.26, 0.24, 0.245, 0.222, 0.21, 0.24, 0.262,
                   0.232, 0.26, 0.235, 0.26, 0.265, 0.275, 0.29, 0.27, 0.255, 0.255,
                   0.26, 0.23, 0.228, 0.25, 0.255, 0.235, 0.228]
forest_allsm_hi = [0.30, 0.305, 0.285, 0.305, 0.28, 0.285, 0.26, 0.25, 0.28, 0.30,
                   0.27, 0.30, 0.275, 0.298, 0.30, 0.312, 0.335, 0.31, 0.295, 0.295,
                   0.305, 0.27, 0.27, 0.29, 0.295, 0.275, 0.268]
forest_local_lo = [0.255, 0.255, 0.235, 0.245, 0.222, 0.232, 0.212, 0.198, 0.235, 0.255,
                   0.232, 0.245, 0.222, 0.24, 0.25, 0.268, 0.29, 0.268, 0.245, 0.24,
                   0.242, 0.218, 0.214, 0.24, 0.245, 0.224, 0.22]
forest_local_hi = [0.30, 0.30, 0.265, 0.275, 0.248, 0.26, 0.238, 0.226, 0.265, 0.285,
                   0.258, 0.275, 0.248, 0.268, 0.28, 0.296, 0.32, 0.296, 0.275, 0.27,
                   0.272, 0.246, 0.242, 0.27, 0.275, 0.252, 0.248]


def draw_site(ax, obs_dates, obs, mod_dates, models, band_dates, bands):
    """Bandas de incertidumbre, datos observados y las tres calibraciones."""
    bd = pd.to_datetime(band_dates)
    for lo, hi, color in bands:
        ax.fill_between(bd, lo, hi, color=color, alpha=0.2, linewidth=0, zorder=1)
    ax.plot(pd.to_datetime(obs_dates), obs, color='black', linewidth=2.8, zorder=3)
    md = pd.to_datetime(mod_dates)
    for values, color in models:
        ax.plot(md, values, color=color, linewidth=1.5, zorder=4)


def style_axis(ax):
    ax.spines['top'].set_visible(False)
    ax.spines['right'].set_visible(False)
    ax.spines['left'].set_linewidth(1.6)
    ax.spines['bottom'].set_linewidth(1.6)
    ax.tick_params(labelsize=19, labelcolor='#4d4d4d', color='#333333', length=6, width=1.2)
    ax.set_ylabel('θ (m$^{3}$.m$^{-3}$)', fontsize=21)


fig = plt.figure(figsize=(12.59, 12.96), dpi=100)
W, H = 1259.0, 1296.0
ax1 = fig.add_axes([122 / W, 1 - 582 / H, 1132 / W, 572 / H])
ax2 = fig.add_axes([122 / W, 1 - 900 / H, 1132 / W, 310 / H])
ax3 = fig.add_axes([122 / W, 1 - 1258 / H, 1132 / W, 310 / H])

long_start, long_end = pd.Timestamp('2012-09-24'), pd.Timestamp('2016-10-02')
label_x = -0.069

# --- Peat + Gley ---
draw_site(ax1, peat_obs_dates, peat_obs, peat_mod_dates,
          [(peat_local, C_LOCAL), (peat_allsm, C_ALLSM), (peat_all, C_ALL)],
          peat_band_dates,
          [(peat_all_lo, peat_all_hi, C_ALL), (peat_allsm_lo, peat_allsm_hi, C_ALLSM),
           (peat_local_lo, peat_local_hi, C_LOCAL)])
draw_site(ax1, gley_obs_dates, gley_obs, gley_mod_dates,
          [(gley_local, C_LOCAL), (gley_allsm, C_ALLSM), (gley_all, C_ALL)],
          gley_band_dates,
          [(gley_all_lo, gley_all_hi, C_ALL), (gley_allsm_lo, gley_allsm_hi, C_ALLSM),
           (gley_local_lo, gley_local_hi, C_LOCAL)])
style_axis(ax1)
ax1.set_xlim(long_start, long_end)
ax1.set_ylim(0.256, 0.956)
ax1.set_yticks([0.3, 0.4, 0.5, 0.6, 0.7, 0.8, 0.9])
ax1.yaxis.set_major_formatter(FormatStrFormatter('%.1f'))
ax1.spines['bottom'].set_visible(False)
ax1.tick_params(axis='x', bottom=False, labelbottom=False)
ax1.yaxis.set_label_coords(label_x, 0.467)
ax1.text(0.016, 0.659, 'a', fontsize=22, fontweight='bold', va='center', transform=ax1.transAxes)
ax1.text(0.047, 0.659, 'Peat', fontsize=22, va='center', transform=ax1.transAxes)
ax1.text(0.022, 0.121, 'b', fontsize=22, fontweight='bold', va='center', transform=ax1.transAxes)
ax1.text(0.053, 0.121, 'Gley', fontsize=22, va='center', transform=ax1.transAxes)

# --- Podzol ---
draw_site(ax2, podzol_obs_dates, podzol_obs, podzol_mod_dates,
          [(podzol_local, C_LOCAL), (podzol_allsm, C_ALLSM), (podzol_all, C_ALL)],
          podzol_band_dates,
          [(podzol_all_lo, podzol_all_hi, C_ALL), (podzol_allsm_lo, podzol_allsm_hi, C_ALLSM),
           (podzol_local_lo, podzol_local_hi, C_LOCAL)])
style_axis(ax2)
ax2.set_xlim(long_start, long_end)
ax2.set_ylim(0.186, 0.431)
ax2.set_yticks([0.20, 0.25, 0.30, 0.35, 0.40])
ax2.yaxis.set_major_formatter(FormatStrFormatter('%.2f'))
ax2.xaxis.set_major_locator(mdates.YearLocator())
ax2.xaxis.set_major_formatter(mdates.DateFormatter('%Y'))
ax2.spines['left'].set_bounds(0.186, 0.401)
ax2.spines['bottom'].set_bounds(mdates.date2num(long_start), mdates.date2num(pd.Timestamp('2016-09-20')))
ax2.yaxis.set_label_coords(label_x, 0.49)
ax2.text(0.0186, 0.113, 'c', fontsize=22, fontweight='bold', va='center', transform=ax2.transAxes)
ax2.text(0.0495, 0.113, 'Podzol', fontsize=22, va='center', transform=ax2.transAxes)

# --- Forest site B ---
draw_site(ax3, forest_obs_dates, forest_obs, forest_mod_dates,
          [(forest_local, C_LOCAL), (forest_allsm, C_ALLSM), (forest_all, C_ALL)],
          forest_band_dates,
          [(forest_all_lo, forest_all_hi, C_ALL), (forest_allsm_lo, forest_allsm_hi, C_ALLSM),
           (forest_local_lo, forest_local_hi, C_LOCAL)])
style_axis(ax3)
ax3.set_xlim(pd.Timestamp('2015-01-01'), pd.Timestamp('2016-09-21'))
ax3.set_ylim(0.1594, 0.4251)
ax3.set_yticks([0.20, 0.25, 0.30, 0.35, 0.40])
ax3.yaxis.set_major_formatter(FormatStrFormatter('%.2f'))
ax3.xaxis.set_major_locator(mdates.MonthLocator(bymonth=[1, 7]))
ax3.xaxis.set_major_formatter(mdates.DateFormatter('%b %Y'))
ax3.spines['top'].set_visible(True)
ax3.spines['top'].set_color('#d0d0d0')
ax3.spines['top'].set_linewidth(1.0)
ax3.yaxis.set_label_coords(label_x, 0.526)
ax3.text(0.014, 0.89, 'd', fontsize=22, fontweight='bold', va='center', transform=ax3.transAxes)
ax3.text(0.047, 0.89, 'Forest site B', fontsize=22, va='center', transform=ax3.transAxes)

# --- Leyenda compartida ---
frame = Rectangle((391 / W, 1 - 625 / H), 503 / W, 149 / H, transform=fig.transFigure,
                  facecolor=(1, 1, 1, 0.85), edgecolor='black', linewidth=1.5, zorder=4.5)
fig.add_artist(frame)

data_handle = Line2D([], [], color='black', linewidth=6, solid_capstyle='butt')
leg1 = fig.legend([data_handle], [''], loc='upper left', bbox_to_anchor=(405 / W, 1 - 482 / H),
                  title='Data', frameon=False, fontsize=21.5, alignment='left',
                  title_fontproperties={'weight': 'bold', 'size': 21.5},
                  handlelength=1.0, handletextpad=0.0, labelspacing=0.27, borderpad=0, borderaxespad=0)
model_handles = [(Patch(facecolor=c, alpha=0.3, linewidth=0), Line2D([], [], color=c, linewidth=3.5))
                 for c in (C_LOCAL, C_ALLSM, C_ALL)]
model_labels = ['Local soil moisture dataset', 'All soil moisture datasets', 'All datasets']
leg2 = fig.legend(model_handles, model_labels, loc='upper left', bbox_to_anchor=(487 / W, 1 - 482 / H),
                  title='Calibrated model, against...', frameon=False, fontsize=21.5, alignment='left',
                  title_fontproperties={'weight': 'bold', 'size': 21.5},
                  handlelength=1.05, handletextpad=0.3, labelspacing=0.27, borderpad=0, borderaxespad=0)
leg1.set_zorder(5)
leg2.set_zorder(5)

fig.savefig('out.png', dpi=100)
